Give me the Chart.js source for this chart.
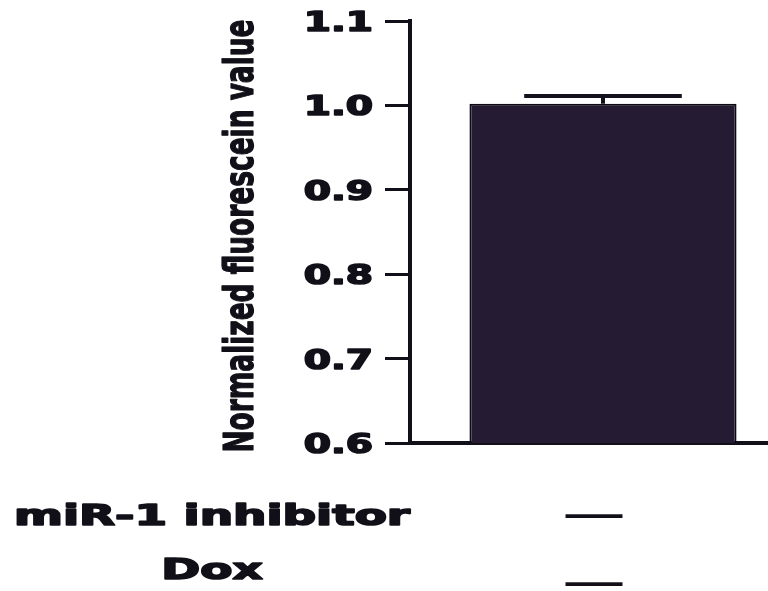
<!DOCTYPE html>
<html>
<head>
<meta charset="utf-8">
<script src="https://cdn.jsdelivr.net/npm/chart.js@4.4.1/dist/chart.umd.min.js"></script>
<style>
  html, body { margin: 0; padding: 0; background: #ffffff; overflow: hidden; }
  #wrap { width: 768px; height: 591px; overflow: hidden; position: relative; }
  canvas { display: block; }
</style>
</head>
<body>
<div id="wrap"><canvas id="c" width="796" height="591"></canvas></div>
<script>
// ---- data ----
const categories = ['miR-1 inhibitor − / Dox −'];
const rowLabels = ['miR-1 inhibitor', 'Dox'];
const treatments = [['—', '—']];          // per category, in rowLabels order
const means = [1.002];
const errors = [0.009];
const yTickLabels = ['0.6', '0.7', '0.8', '0.9', '1.0', '1.1'];
const yTitle = 'Normalized fluorescein value';

const INK = '#111018';

function heavyText(ctx, s, x, y, w) {
  ctx.lineWidth = w;
  ctx.lineJoin = 'round';
  ctx.strokeText(s, x, y);
  ctx.fillText(s, x, y);
}

const overlay = {
  id: 'overlay',
  afterDatasetsDraw(chart) {
    const ctx = chart.ctx, xs = chart.scales.x, ys = chart.scales.y;
    const meta = chart.getDatasetMeta(0);
    ctx.save();
    ctx.strokeStyle = '#15101d';
    ctx.lineWidth = 4;
    means.forEach((m, i) => {
      const px = xs.getPixelForValue(i);
      const top = ys.getPixelForValue(m + errors[i]);
      const mid = ys.getPixelForValue(m);
      const half = meta.data[i].width * 0.295;
      ctx.beginPath();
      ctx.moveTo(px, mid); ctx.lineTo(px, top);
      ctx.moveTo(px - half, top); ctx.lineTo(px + half, top);
      ctx.stroke();
    });
    ctx.restore();
  },
  afterDraw(chart) {
    const ctx = chart.ctx, xs = chart.scales.x, ys = chart.scales.y;
    const area = chart.chartArea;
    ctx.save();
    ctx.fillStyle = INK;
    ctx.strokeStyle = INK;

    // y tick labels
    ctx.font = 'bold 27px "DejaVu Sans", sans-serif';
    ctx.textAlign = 'right';
    ctx.textBaseline = 'alphabetic';
    yTickLabels.forEach(t => {
      const py = ys.getPixelForValue(parseFloat(t));
      const mt = ctx.measureText(t);
      const asc = mt.actualBoundingBoxAscent, desc = mt.actualBoundingBoxDescent;
      ctx.save();
      ctx.translate(area.left - 25 - 12, py + (asc - desc) / 2);
      ctx.scale(1.45, 1);
      heavyText(ctx, t, 0, 0, 1.6);
      ctx.restore();
    });

    // y title (condensed, rotated)
    ctx.font = 'bold 41px "Liberation Sans Narrow", "DejaVu Sans Condensed", sans-serif';
    const tw = ctx.measureText(yTitle).width;
    ctx.save();
    ctx.translate(253, 236);
    ctx.rotate(-Math.PI / 2);
    ctx.scale(433 / tw, 1);
    ctx.textAlign = 'center';
    ctx.textBaseline = 'alphabetic';
    heavyText(ctx, yTitle, 0, 0, 1.2);
    ctx.restore();

    // row labels
    ctx.font = 'bold 28px "DejaVu Sans", sans-serif';
    const sx = 396 / ctx.measureText(rowLabels[0]).width;
    const rowBase = [area.bottom + 82, area.bottom + 136];
    ctx.textAlign = 'center';
    rowLabels.forEach((lab, r) => {
      ctx.save();
      ctx.translate(212, rowBase[r]);
      ctx.scale(sx, 1);
      heavyText(ctx, lab, 0, 0, 1.6);
      ctx.restore();
    });

    // treatment marks under each bar
    ctx.font = '57px "Liberation Sans", sans-serif';
    ctx.textAlign = 'center';
    const rowMid = [area.bottom + 73, area.bottom + 141];
    treatments.forEach((rows, i) => {
      const px = xs.getPixelForValue(i) - 9;
      rows.forEach((s, r) => {
        const mt = ctx.measureText(s);
        const asc = mt.actualBoundingBoxAscent, desc = mt.actualBoundingBoxDescent;
        ctx.fillText(s, px, rowMid[r] + (asc - desc) / 2);
      });
    });
    ctx.restore();
  }
};

new Chart(document.getElementById('c'), {
  type: 'bar',
  data: {
    labels: categories,
    datasets: [{
      data: means,
      backgroundColor: '#251b33',
      borderColor: '#0e0a14',
      borderWidth: 2,
      borderSkipped: 'bottom',
      categoryPercentage: 1.0,
      barPercentage: 0.692
    }]
  },
  options: {
    responsive: false,
    animation: false,
    devicePixelRatio: 1,
    layout: { padding: { top: 21, right: 0, bottom: 0, left: 0 } },
    plugins: { legend: { display: false }, tooltip: { enabled: false } },
    scales: {
      x: {
        ticks: { display: false },
        grid: { display: true, drawOnChartArea: false, drawTicks: false, color: 'rgba(0,0,0,0)' },
        border: { display: true, color: INK, width: 4 },
        afterFit(s) { s.height = 148; }
      },
      y: {
        min: 0.6, max: 1.1,
        ticks: { display: false, stepSize: 0.1 },
        grid: { display: true, drawOnChartArea: false, drawTicks: true, tickLength: 25, tickWidth: 3, tickColor: INK },
        border: { display: true, color: INK, width: 4 },
        afterFit(s) { s.width = 410; }
      }
    }
  },
  plugins: [overlay]
});
</script>
</body>
</html>
